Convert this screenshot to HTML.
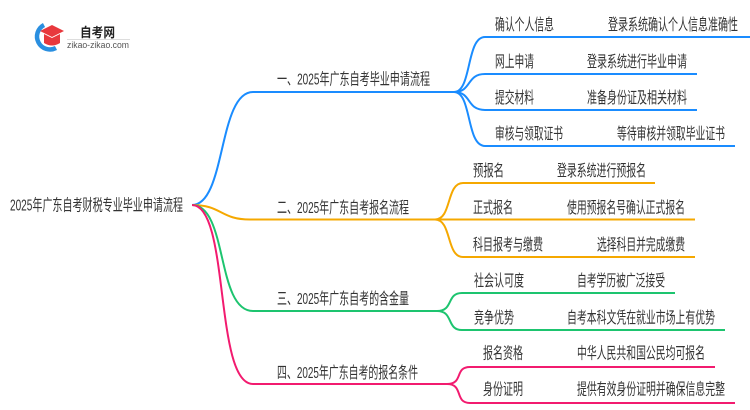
<!DOCTYPE html>
<html><head><meta charset="utf-8"><style>
html,body{margin:0;padding:0;background:#fff;}
svg{display:block;}
text{font-family:"Liberation Sans","Noto Sans CJK SC",sans-serif;fill:#333;}
</style></head><body>
<svg width="750" height="410" viewBox="0 0 750 410" xmlns="http://www.w3.org/2000/svg">
<!-- logo -->
<path d="M44,25 A12,12 0 1 0 56,48" fill="none" stroke="#2a8fe0" stroke-width="4.5"/>
<path d="M40,31 L52,25 L64,31 L52,37 Z" fill="#e8383d"/>
<path d="M44,34 L44,43 Q52,48 60,43 L60,34 L52,38 Z" fill="#e8383d"/>
<text x="80" y="37" font-size="13" font-weight="bold" style="fill:#222" textLength="35" lengthAdjust="spacingAndGlyphs">自考网</text>
<line x1="67" y1="39.5" x2="130" y2="39.5" stroke="#ddd" stroke-width="1"/>
<text x="67" y="48" font-size="9" style="fill:#555" textLength="62" lengthAdjust="spacingAndGlyphs">zikao-zikao.com</text>

<g fill="none" stroke-width="2">
<!-- blue -->
<path d="M192,205 C226,205 218,92 253,92 L454,92" stroke="#1a8cff"/>
<path d="M454,92 C472,92 466,37 485,37 L750,37" stroke="#1a8cff"/>
<path d="M454,92 C472,92 466,74 485,74 L697,74" stroke="#1a8cff"/>
<path d="M454,92 C472,92 466,110 485,110 L697,110" stroke="#1a8cff"/>
<path d="M454,92 C472,92 466,146 485,146 L735,146" stroke="#1a8cff"/>
<!-- orange -->
<path d="M192,205 C222,205 220,219.5 250,219.5 L695,219.5" stroke="#f5a800"/>
<path d="M435,219.5 C452,219.5 446,183 463,183 L655,183" stroke="#f5a800"/>
<path d="M435,219.5 C452,219.5 446,257 463,257 L695,257" stroke="#f5a800"/>
<!-- green -->
<path d="M192,205 C228,205 216,311 253,311 L437,311" stroke="#1dc46f"/>
<path d="M437,311 C454,311 446,293 462,293 L675,293" stroke="#1dc46f"/>
<path d="M437,311 C454,311 446,330 462,330 L725,330" stroke="#1dc46f"/>
<!-- pink -->
<path d="M192,205 C230,205 214,384 253,384 L447,384" stroke="#f21b6f"/>
<path d="M447,384 C464,384 454,367 470,367 L715,367" stroke="#f21b6f"/>
<path d="M447,384 C464,384 454,403 470,403 L735,403" stroke="#f21b6f"/>
</g>

<g font-size="16">
<text x="10" y="210.5" textLength="173" lengthAdjust="spacingAndGlyphs">2025年广东自考财税专业毕业申请流程</text>

<text x="277" y="84.5" textLength="153" lengthAdjust="spacingAndGlyphs">一、2025年广东自考毕业申请流程</text>
<text x="495" y="30" textLength="59" lengthAdjust="spacingAndGlyphs">确认个人信息</text>
<text x="608" y="30" textLength="130" lengthAdjust="spacingAndGlyphs">登录系统确认个人信息准确性</text>
<text x="495" y="67" textLength="39" lengthAdjust="spacingAndGlyphs">网上申请</text>
<text x="587" y="67" textLength="100" lengthAdjust="spacingAndGlyphs">登录系统进行毕业申请</text>
<text x="495" y="103" textLength="39" lengthAdjust="spacingAndGlyphs">提交材料</text>
<text x="587" y="103" textLength="100" lengthAdjust="spacingAndGlyphs">准备身份证及相关材料</text>
<text x="495" y="139" textLength="68" lengthAdjust="spacingAndGlyphs">审核与领取证书</text>
<text x="617" y="139" textLength="108" lengthAdjust="spacingAndGlyphs">等待审核并领取毕业证书</text>

<text x="277" y="213" textLength="132" lengthAdjust="spacingAndGlyphs">二、2025年广东自考报名流程</text>
<text x="473" y="176" textLength="31" lengthAdjust="spacingAndGlyphs">预报名</text>
<text x="557" y="176" textLength="89" lengthAdjust="spacingAndGlyphs">登录系统进行预报名</text>
<text x="473" y="213" textLength="40" lengthAdjust="spacingAndGlyphs">正式报名</text>
<text x="567" y="213" textLength="118" lengthAdjust="spacingAndGlyphs">使用预报名号确认正式报名</text>
<text x="473" y="250" textLength="70" lengthAdjust="spacingAndGlyphs">科目报考与缴费</text>
<text x="597" y="250" textLength="88" lengthAdjust="spacingAndGlyphs">选择科目并完成缴费</text>

<text x="277" y="304" textLength="132" lengthAdjust="spacingAndGlyphs">三、2025年广东自考的含金量</text>
<text x="474" y="286" textLength="50" lengthAdjust="spacingAndGlyphs">社会认可度</text>
<text x="577" y="286" textLength="88" lengthAdjust="spacingAndGlyphs">自考学历被广泛接受</text>
<text x="474" y="323" textLength="40" lengthAdjust="spacingAndGlyphs">竞争优势</text>
<text x="567" y="323" textLength="148" lengthAdjust="spacingAndGlyphs">自考本科文凭在就业市场上有优势</text>

<text x="277" y="378" textLength="141" lengthAdjust="spacingAndGlyphs">四、2025年广东自考的报名条件</text>
<text x="483" y="358.5" textLength="40" lengthAdjust="spacingAndGlyphs">报名资格</text>
<text x="577" y="358.5" textLength="128" lengthAdjust="spacingAndGlyphs">中华人民共和国公民均可报名</text>
<text x="483" y="394.5" textLength="40" lengthAdjust="spacingAndGlyphs">身份证明</text>
<text x="577" y="394.5" textLength="148" lengthAdjust="spacingAndGlyphs">提供有效身份证明并确保信息完整</text>
</g>
</svg>
</body></html>
